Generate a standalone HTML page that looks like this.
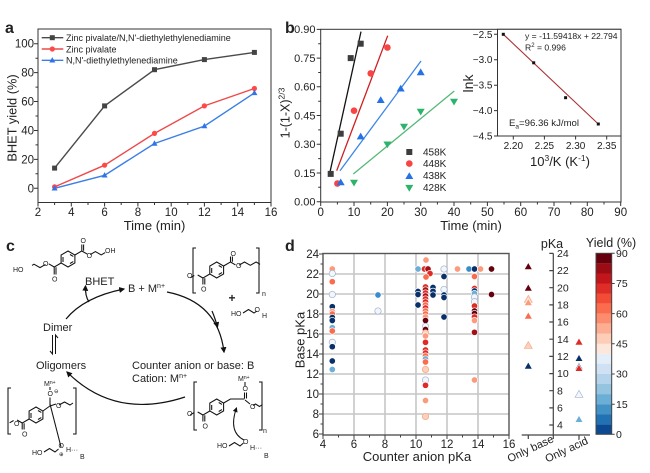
<!DOCTYPE html>
<html><head><meta charset="utf-8">
<style>
html,body{margin:0;padding:0;background:#fff}
svg{display:block}
text{font-family:"Liberation Sans",Arial,sans-serif;fill:#222}
.t{font-size:11.5px}
.s{font-size:10px}
.N{fill:#08306b}.B1{fill:#3a8ccc}.LB{fill:#6baed6}.W{fill:#f3f6fb;stroke:#9db3cf!important}
.P{fill:#fdd0bb;stroke:#f2a385!important}.LO{fill:#fc9b7c}.O{fill:#fb6b4e}.R{fill:#e02a25}.DR{fill:#a50f15}.M{fill:#67000d}
.d circle{stroke:#fff;stroke-width:.7}
.d path{stroke:#fff;stroke-width:.6}
.st{stroke:#111;fill:none;stroke-width:1.05}
</style></head><body>
<svg width="650" height="473" viewBox="0 0 650 473" xmlns="http://www.w3.org/2000/svg">
<defs>
<marker id="ah" viewBox="0 0 10 10" refX="8" refY="5" markerWidth="5" markerHeight="5" orient="auto"><path d="M0,0 L10,5 L0,10 z" fill="#111"/></marker>
</defs>
<rect width="650" height="473" fill="#fff"/>

<!-- ============ PANEL A ============ -->
<text x="5" y="33" style="font-size:16px;font-weight:bold">a</text>
<g stroke="#333" stroke-width="1" fill="none">
<rect x="38" y="29" width="233" height="173.5"/>
<path d="M38 202.5v4M71.3 202.5v4M104.6 202.5v4M137.9 202.5v4M171.2 202.5v4M204.4 202.5v4M237.7 202.5v4M271 202.5v4
M54.6 202.5v2.5M88 202.5v2.5M121.2 202.5v2.5M154.5 202.5v2.5M187.8 202.5v2.5M221.1 202.5v2.5M254.4 202.5v2.5
M38 188.3h-4M38 159.4h-4M38 130.5h-4M38 101.5h-4M38 72.6h-4M38 43.7h-4
M38 173.8h-2.5M38 144.9h-2.5M38 116h-2.5M38 87.1h-2.5M38 58.2h-2.5"/>
</g>
<g class="t" text-anchor="middle">
<text x="38" y="216">2</text><text x="71.3" y="216">4</text><text x="104.6" y="216">6</text><text x="137.9" y="216">8</text>
<text x="171.2" y="216">10</text><text x="204.4" y="216">12</text><text x="237.7" y="216">14</text><text x="271" y="216">16</text>
</g>
<g class="t" text-anchor="end">
<text x="34" y="192.3">0</text><text x="34" y="163.4">20</text><text x="34" y="134.5">40</text><text x="34" y="105.5">60</text><text x="34" y="76.6">80</text><text x="34" y="47.7">100</text>
</g>
<text x="154.5" y="230" text-anchor="middle" style="font-size:13px">Time (min)</text>
<text transform="translate(16.5,118) rotate(-90)" text-anchor="middle" style="font-size:12.8px">BHET yield (%)</text>
<!-- series -->
<polyline points="54.6,168.1 104.6,105.9 154.5,69.7 204.4,59.6 254.4,52.4" fill="none" stroke="#4a4a4a" stroke-width="1.4"/>
<polyline points="54.6,186.9 104.6,165.2 154.5,133.4 204.4,105.9 254.4,88.5" fill="none" stroke="#ee4a4a" stroke-width="1.4"/>
<polyline points="54.6,188.3 104.6,175.3 154.5,143.5 204.4,126.1 254.4,92.9" fill="none" stroke="#3b7fe6" stroke-width="1.4"/>
<g fill="#444"><rect x="52.1" y="165.6" width="5" height="5"/><rect x="102.1" y="103.4" width="5" height="5"/><rect x="152" y="67.2" width="5" height="5"/><rect x="201.9" y="57.1" width="5" height="5"/><rect x="251.9" y="49.9" width="5" height="5"/></g>
<g fill="#ff4848"><circle cx="54.6" cy="186.9" r="2.6"/><circle cx="104.6" cy="165.2" r="2.6"/><circle cx="154.5" cy="133.4" r="2.6"/><circle cx="204.4" cy="105.9" r="2.6"/><circle cx="254.4" cy="88.5" r="2.6"/></g>
<g fill="#2f74e8"><path d="M54.6 185.1l3 5.4h-6z"/><path d="M104.6 172.1l3 5.4h-6z"/><path d="M154.5 140.3l3 5.4h-6z"/><path d="M204.4 122.9l3 5.4h-6z"/><path d="M254.4 89.7l3 5.4h-6z"/></g>
<!-- legend a -->
<path d="M41.7 37.7h21.6" stroke="#4a4a4a" stroke-width="1.4"/><rect x="49.8" y="35.2" width="5" height="5" fill="#444"/>
<text x="66" y="41" style="font-size:9px">Zinc pivalate/N,N'-diethylethylenediamine</text>
<path d="M41.7 49h21.6" stroke="#ee4a4a" stroke-width="1.4"/><circle cx="52.3" cy="49" r="2.6" fill="#ff4848"/>
<text x="66" y="52.3" style="font-size:9px">Zinc pivalate</text>
<path d="M41.7 60.3h21.6" stroke="#3b7fe6" stroke-width="1.4"/><path d="M52.3 57.1l3 5.4h-6z" fill="#2f74e8"/>
<text x="66" y="63.6" style="font-size:9px">N,N'-diethylethylenediamine</text>

<!-- ============ PANEL B ============ -->
<text x="285" y="33" style="font-size:16px;font-weight:bold">b</text>
<g stroke="#333" stroke-width="1" fill="none">
<rect x="320.7" y="29.3" width="300.3" height="172.7"/>
<path d="M320.7 202v4M354 202v4M387.4 202v4M420.7 202v4M454 202v4M487.4 202v4M520.7 202v4M554 202v4M587.3 202v4M620.7 202v4
M337.4 202v2.5M370.7 202v2.5M404 202v2.5M437.4 202v2.5M470.7 202v2.5M504 202v2.5M537.4 202v2.5M570.7 202v2.5M604 202v2.5
M320.7 201.7h-4M320.7 173h-4M320.7 144.3h-4M320.7 115.5h-4M320.7 86.8h-4M320.7 58.1h-4M320.7 29.4h-4
M320.7 187.3h-2.5M320.7 158.6h-2.5M320.7 129.9h-2.5M320.7 101.2h-2.5M320.7 72.5h-2.5M320.7 43.7h-2.5"/>
</g>
<g class="t" text-anchor="middle">
<text x="320.7" y="216">0</text><text x="354" y="216">10</text><text x="387.4" y="216">20</text><text x="420.7" y="216">30</text><text x="454" y="216">40</text>
<text x="487.4" y="216">50</text><text x="520.7" y="216">60</text><text x="554" y="216">70</text><text x="587.3" y="216">80</text><text x="620.7" y="216">90</text>
</g>
<g class="t" text-anchor="end" style="font-size:11px">
<text x="315.5" y="205.5">0.00</text><text x="315.5" y="176.8">0.15</text><text x="315.5" y="148.1">0.30</text><text x="315.5" y="119.3">0.45</text>
<text x="315.5" y="90.6">0.60</text><text x="315.5" y="61.9">0.75</text><text x="315.5" y="33.2">0.90</text>
</g>
<text x="471" y="230" text-anchor="middle" style="font-size:13px">Time (min)</text>
<text transform="translate(289.5,113) rotate(-90)" text-anchor="middle" style="font-size:12.5px">1-(1-X)<tspan dy="-5" style="font-size:8.5px">2/3</tspan></text>
<!-- fit lines -->
<path d="M329.3 175.1L361 31.6" stroke="#111" stroke-width="1.3"/>
<path d="M336.7 170.7L387.7 35.7" stroke="#d01e1e" stroke-width="1.3"/>
<path d="M340 170.7L421 61" stroke="#3d86e6" stroke-width="1.3"/>
<path d="M353.3 174L454.3 91" stroke="#55b877" stroke-width="1.3"/>
<!-- markers -->
<g fill="#3d3d3d"><rect x="327.7" y="170.9" width="6" height="6"/><rect x="337.7" y="130.7" width="6" height="6"/><rect x="347.7" y="55.1" width="6" height="6"/><rect x="357.7" y="40.7" width="6" height="6"/></g>
<g fill="#f84444"><circle cx="337.4" cy="183.5" r="3.3"/><circle cx="354" cy="110.7" r="3.3"/><circle cx="370.7" cy="73.4" r="3.3"/><circle cx="387.4" cy="47.5" r="3.3"/></g>
<g fill="#2373e6"><path d="M340.7 178.5l4 6.8h-8z"/><path d="M360.7 132.6l4 6.8h-8z"/><path d="M380.7 96.2l4 6.8h-8z"/><path d="M400.7 84.7l4 6.8h-8z"/><path d="M420.7 68.4l4 6.8h-8z"/></g>
<g fill="#2cb36c"><path d="M354 186.5l4 -6.8h-8z"/><path d="M387.4 148.3l4 -6.8h-8z"/><path d="M404 130.5l4 -6.8h-8z"/><path d="M420.7 115.5l4 -6.8h-8z"/><path d="M454 105.5l4 -6.8h-8z"/></g>
<!-- legend b -->
<rect x="406.3" y="149" width="6" height="6" fill="#3d3d3d"/><text x="423" y="155.5" class="s">458K</text>
<circle cx="409.3" cy="163.6" r="3.3" fill="#f84444"/><text x="423" y="167" class="s">448K</text>
<path d="M409.3 172.2l4 6.8h-8z" fill="#2373e6"/><text x="423" y="179" class="s">438K</text>
<path d="M409.3 191.7l4 -6.8h-8z" fill="#2cb36c"/><text x="423" y="191" class="s">428K</text>
<!-- inset -->
<rect x="497.5" y="29.3" width="123.5" height="106.7" fill="#fff" stroke="#333" stroke-width="1"/>
<g stroke="#333" stroke-width="1"><path d="M513.3 136v3.5M544.4 136v3.5M575.6 136v3.5M606.7 136v3.5M497.5 34.3h-3.5M497.5 59.7h-3.5M497.5 85.2h-3.5M497.5 110.6h-3.5M497.5 136h-3.5"/></g>
<g text-anchor="middle" style="font-size:10px"><text x="513.3" y="149">2.20</text><text x="544.4" y="149">2.25</text><text x="575.6" y="149">2.30</text><text x="606.7" y="149">2.35</text></g>
<g text-anchor="end" style="font-size:10px"><text x="492.5" y="37.8">−2.5</text><text x="492.5" y="63.2">−3.0</text><text x="492.5" y="88.7">−3.5</text><text x="492.5" y="114.1">−4.0</text><text x="492.5" y="139.5">−4.5</text></g>
<path d="M503.3 34.3L598.3 124" stroke="#a83232" stroke-width="1.1"/>
<g fill="#111"><rect x="501.8" y="32.8" width="3" height="3"/><rect x="532.2" y="61.3" width="3" height="3"/><rect x="564.1" y="96.2" width="3" height="3"/><rect x="596.8" y="122.5" width="3" height="3"/></g>
<text x="525" y="39" style="font-size:8.6px">y = -11.59418x + 22.794</text>
<text x="525" y="50.5" style="font-size:8.6px">R<tspan dy="-3.5" style="font-size:6px">2</tspan><tspan dy="3.5"> = 0.996</tspan></text>
<text x="509" y="126" style="font-size:9.6px">E<tspan dy="2.5" style="font-size:6.5px">a</tspan><tspan dy="-2.5">=96.36 kJ/mol</tspan></text>
<text transform="translate(473,83.5) rotate(-90)" text-anchor="middle" style="font-size:14px">lnk</text>
<text x="560" y="166" text-anchor="middle" style="font-size:13px">10<tspan dy="-5" style="font-size:8.5px">3</tspan><tspan dy="5">/K (K</tspan><tspan dy="-5" style="font-size:8.5px">-1</tspan><tspan dy="5">)</tspan></text>

<!-- ============ PANEL C ============ -->
<text x="6" y="251" style="font-size:16px;font-weight:bold">c</text>
<g class="st">
<!-- BHET -->
<path d="M68 251l6.9 4v8l-6.9 4l-6.9-4v-8z"/><path d="M70 254.5l3.3 1.9M63 257v5M70 263.5l3.3-1.9" />
<path d="M61.1 263l-6.9 4v7.5M56 267.3v7.2M54.2 267l-5.5-3.2M45.5 264.4l-5.5 3.2l-6 -3.4l-2 1.2"/>
<path d="M74.9 255l6.9-4v-6.5M83.6 250.7v-6.2M81.8 251l5.4 3.1M90.2 254.6l5.2-3l5.8 3.3l4-2.3"/>
<!-- PET top right -->
<path d="M196 248h-3v45h3M256 248h3v45h-3"/>
<path d="M216.7 262l6.9 4v8l-6.9 4l-6.9-4v-8z"/><path d="M218.7 265.5l3.3 1.9M211.7 268v5M218.7 274.5l3.3-1.9"/>
<path d="M209.8 274l-6.9 4v6.5M204.8 278.3v6.2M202.9 278l-5.2-3M194.3 275.5l-4 2.3"/>
<path d="M223.6 266l6.9-4v-5.5M232.4 261.7v-5.2M230.5 262l5 2.9M239 265.2l5.5-3.2l5.8 3.3l5.8-3.3l4 2.3"/>
<!-- EG -->
<path d="M243 313l5.5-3.5l5.5 3.5l3-2"/>
<!-- bottom-left structure -->
<path d="M11 388h-3v46h3M73 388h3v46h-3"/>
<path d="M36 407l6.9 4v8l-6.9 4l-6.9-4v-8z"/><path d="M38 410.5l3.3 1.9M31 413v5M38 419.5l3.3-1.9"/>
<path d="M29.1 419l-6.9 4v6.5M24.1 423.3v6.2M22.2 423l-5.2-3M13.6 420.5l-4 2.3"/>
<path d="M42.9 411l7-5M50 405.5v-8M50 406l6 -2M59 405l5.5-3l5.5 3l3-2M50 390v-3"/>
<path d="M50 404L61 447"/>
<path d="M44 452l5.5-3.5l5.5 3.5l3.5-3"/>
<!-- bottom-right structure -->
<path d="M197 382h-3v48h3M259 382h3v48h-3"/>
<path d="M216.7 399l6.9 4v8l-6.9 4l-6.9-4v-8z"/><path d="M218.7 402.5l3.3 1.9M211.7 405v5M218.7 411.5l3.3-1.9"/>
<path d="M209.8 411l-6.9 4v6.5M204.8 415.3v6.2M202.9 415l-5.2-3M194.3 412.5l-4 2.3"/>
<path d="M223.6 403l6.9-4h14M244.5 398.5v-6M246.5 398.5v-6M245 400l5 4M253 405.5l2.5-1.5l4 2.5l3-2M245 386v-4"/>
<path d="M229 446l5.5-3.5l5.5 3.5l3.5-3"/>
</g>
<g style="font-size:7px" fill="#111">
<text x="13" y="272">HO</text><text x="52" y="281.5">O</text><text x="43" y="266">O</text>
<text x="80.5" y="243">O</text><text x="86.6" y="258">O</text><text x="105" y="253">OH</text>
<text x="187" y="278">O</text><text x="201" y="291.5">O</text><text x="230.5" y="256">O</text><text x="236" y="268">O</text><text x="262" y="296">n</text>
<text x="231" y="316">HO</text><text x="254.5" y="312">O</text><text x="262" y="318">H</text>
<text x="44" y="386">M<tspan dy="-2" style="font-size:5px">n+</tspan></text><text x="47.5" y="396">O</text><text x="54" y="393" style="font-size:5.5px">⊖</text>
<text x="56" y="408">O</text><text x="14" y="426">O</text><text x="22" y="436.5">O</text>
<text x="32" y="455">HO</text><text x="58.5" y="448">O</text><text x="59" y="456" style="font-size:5.5px">⊕</text><text x="66" y="452">H···</text><text x="80" y="459">B</text>
<text x="238" y="381">M<tspan dy="-2" style="font-size:5px">n+</tspan></text><text x="242.5" y="391">O</text><text x="250" y="409">O</text>
<text x="187" y="416">O</text><text x="202.5" y="428.5">O</text><text x="263" y="433">n</text>
<text x="217" y="448">HO</text><text x="243" y="444">O</text><text x="250" y="450">H···</text><text x="264" y="458">B</text>
</g>
<text x="232" y="302" text-anchor="middle" style="font-size:12px;font-weight:bold">+</text>
<g style="font-size:11px">
<text x="85" y="285">BHET</text>
<text x="128" y="292">B + M<tspan dy="-4" style="font-size:7px">n+</tspan></text>
<text x="43" y="331">Dimer</text>
<text x="36" y="369">Oligomers</text>
<text x="132" y="369">Counter anion or base: B</text>
<text x="132" y="382">Cation: M<tspan dy="-4" style="font-size:7px">n+</tspan></text>
</g>
<g fill="none" stroke="#111" stroke-width="1.2">
<path d="M66 319Q84 297 124 289" marker-end="url(#ah)"/>
<path d="M89 302Q85 296 85.5 286" marker-end="url(#ah)"/>
<path d="M167 292Q218 302 224 352" marker-end="url(#ah)"/>
<path d="M212 311Q215 318 217.5 327" marker-end="url(#ah)"/>
<path d="M185 397Q115 420 67 372" marker-end="url(#ah)"/>
<path d="M244 440Q228 432 236.5 408" marker-end="url(#ah)" stroke-width="1"/>
<path d="M52.5 335v19l-2.5-3M55.5 354v-19l2.5 3" stroke-width="1"/>
</g>

<!-- ============ PANEL D ============ -->
<text x="285" y="251" style="font-size:16px;font-weight:bold">d</text>
<g stroke="#c6c6c6" stroke-width="1.6">
<path d="M354 254v181M385 254v181M416 254v181M447 254v181M478 254v181"/>
<path d="M323 274h186M323 294h186M323 314h186M323 334h186M323 354h186M323 374h186M323 394h186M323 414h186"/>
</g>
<g class="d">
<circle cx="332.3" cy="269" r="3.2" class="LO"/><circle cx="332.3" cy="273.5" r="3.2" class="W"/><circle cx="332.3" cy="281.7" r="3.2" class="O"/>
<circle cx="332.3" cy="294.5" r="3.2" class="W"/><circle cx="332.3" cy="306.7" r="3.2" class="N"/><circle cx="332.3" cy="311.5" r="3.2" class="LO"/>
<circle cx="332.3" cy="314" r="3.2" class="O"/><circle cx="332.3" cy="317.5" r="3.2" class="N"/><circle cx="332.3" cy="320.5" r="3.2" class="N"/>
<circle cx="332.3" cy="327.7" r="3.2" class="LB"/><circle cx="332.3" cy="331" r="3.2" class="O"/><circle cx="332.3" cy="342.3" r="3.2" class="W"/>
<circle cx="332.3" cy="346.7" r="3.2" class="N"/><circle cx="332.3" cy="361" r="3.2" class="N"/><circle cx="332.3" cy="369.5" r="3.2" class="LB"/>
<circle cx="378" cy="295" r="3.2" class="B1"/><circle cx="378" cy="311" r="3.2" class="W"/>
<circle cx="418" cy="269" r="3.2" class="LB"/><circle cx="418" cy="291.5" r="3.2" class="N"/><circle cx="418" cy="294.5" r="3.2" class="N"/><circle cx="418" cy="305" r="3.2" class="N"/>
<circle cx="426" cy="260" r="3.2" class="LO"/>
<circle cx="424.5" cy="269" r="3.2" class="R"/><circle cx="428" cy="269" r="3.2" class="DR"/><circle cx="430" cy="273.5" r="3.2" class="R"/><circle cx="426" cy="277" r="3.2" class="O"/>
<circle cx="425.5" cy="287" r="3.2" class="R"/><circle cx="425.5" cy="290" r="3.2" class="DR"/><circle cx="425.5" cy="293" r="3.2" class="R"/><circle cx="425.5" cy="296" r="3.2" class="DR"/>
<circle cx="425.5" cy="299" r="3.2" class="R"/><circle cx="425.5" cy="302" r="3.2" class="R"/><circle cx="425.5" cy="305" r="3.2" class="O"/><circle cx="425.5" cy="308" r="3.2" class="R"/>
<circle cx="425.5" cy="311" r="3.2" class="O"/><circle cx="425.5" cy="314" r="3.2" class="O"/><circle cx="425.5" cy="317" r="3.2" class="LO"/><circle cx="425.5" cy="320.5" r="3.2" class="M"/>
<circle cx="425.5" cy="326.5" r="3.2" class="W"/><circle cx="425.5" cy="329.5" r="3.2" class="M"/><circle cx="425.5" cy="333" r="3.2" class="P"/><circle cx="425.5" cy="336" r="3.2" class="LO"/>
<circle cx="425.5" cy="342.3" r="3.2" class="R"/><circle cx="425.5" cy="350" r="3.2" class="R"/><circle cx="425.5" cy="353" r="3.2" class="R"/><circle cx="425.5" cy="356" r="3.2" class="O"/>
<circle cx="425.5" cy="359" r="3.2" class="LB"/><circle cx="425.5" cy="362" r="3.2" class="O"/><circle cx="425.5" cy="369.5" r="3.2" class="P"/><circle cx="425.5" cy="380" r="3.2" class="W"/>
<circle cx="425.5" cy="385.3" r="3.2" class="R"/><circle cx="425.5" cy="400.5" r="3.2" class="LO"/><circle cx="425.5" cy="416.5" r="3.2" class="P"/>
<circle cx="433" cy="287.5" r="3.2" class="N"/><circle cx="433" cy="291.3" r="3.2" class="N"/><circle cx="433" cy="295" r="3.2" class="N"/>
<circle cx="444" cy="269" r="3.2" class="W"/><circle cx="444" cy="276.5" r="3.2" class="N"/><circle cx="444" cy="289.5" r="3.2" class="W"/>
<circle cx="444" cy="295" r="3.2" class="N"/><circle cx="444" cy="297.5" r="3.2" class="N"/><circle cx="444" cy="317" r="3.2" class="N"/>
<circle cx="457.5" cy="269" r="3.2" class="LO"/><circle cx="469" cy="269" r="3.2" class="B1"/>
<circle cx="474.5" cy="269" r="3.2" class="N"/><circle cx="474.5" cy="276.5" r="3.2" class="O"/><circle cx="474.5" cy="288.5" r="3.2" class="R"/>
<circle cx="474.5" cy="291" r="3.2" class="N"/><circle cx="474.5" cy="293.5" r="3.2" class="LB"/><circle cx="474.5" cy="297" r="3.2" class="W"/>
<circle cx="474.5" cy="301.7" r="3.2" class="W"/><circle cx="474.5" cy="306" r="3.2" class="R"/><circle cx="474.5" cy="311" r="3.2" class="M"/>
<circle cx="474.5" cy="313.5" r="3.2" class="M"/><circle cx="474.5" cy="317" r="3.2" class="R"/><circle cx="474.5" cy="320.5" r="3.2" class="LO"/>
<circle cx="474.5" cy="332.3" r="3.2" class="DR"/><circle cx="474.5" cy="380" r="3.2" class="LO"/>
<circle cx="480.5" cy="269" r="3.2" class="LO"/><circle cx="491.5" cy="269" r="3.2" class="M"/><circle cx="491.5" cy="294.5" r="3.2" class="M"/>
</g>
<g stroke="#555" stroke-width="1.4" fill="none">
<rect x="323" y="253.5" width="186" height="181.5"/>
</g>
<g stroke="#444" stroke-width="1" fill="none">
<path d="M323 254h-4M323 274h-4M323 294h-4M323 314h-4M323 334h-4M323 354h-4M323 374h-4M323 394h-4M323 414h-4M323 434h-4
M323 264h-2.5M323 284h-2.5M323 304h-2.5M323 324h-2.5M323 344h-2.5M323 364h-2.5M323 384h-2.5M323 404h-2.5M323 424h-2.5
M323 435v4M354 435v4M385 435v4M416 435v4M447 435v4M478 435v4M509 435v4
M338.5 435v2.5M369.5 435v2.5M400.5 435v2.5M431.5 435v2.5M462.5 435v2.5M493.5 435v2.5"/>
</g>
<g class="t" text-anchor="end">
<text x="319" y="258">24</text><text x="319" y="278">22</text><text x="319" y="298">20</text><text x="319" y="318">18</text><text x="319" y="338">16</text>
<text x="319" y="358">14</text><text x="319" y="378">12</text><text x="319" y="398">10</text><text x="319" y="418">8</text><text x="319" y="438">6</text>
</g>
<g class="t" text-anchor="middle">
<text x="323" y="448">4</text><text x="354" y="448">6</text><text x="385" y="448">8</text><text x="416" y="448">10</text><text x="447" y="448">12</text><text x="478" y="448">14</text><text x="509" y="448">16</text>
</g>
<text x="417" y="461" text-anchor="middle" style="font-size:13px">Counter anion pKa</text>
<text transform="translate(304.5,340) rotate(-90)" text-anchor="middle" style="font-size:13px">Base pKa</text>

<!-- side pKa axis -->
<g stroke="#444" stroke-width="1.2" fill="none">
<path d="M553.3 253.4V435M521.7 435H590"/>
<path d="M553.3 253.4h-4M553.3 270.6h-4M553.3 287.7h-4M553.3 304.9h-4M553.3 322h-4M553.3 339.2h-4M553.3 356.4h-4M553.3 373.6h-4M553.3 390.7h-4M553.3 407.9h-4M553.3 425h-4
M528.3 435v4M579 435v4M553.3 435v4"/>
</g>
<g style="font-size:10.5px">
<text x="557" y="257">24</text><text x="557" y="274.2">22</text><text x="557" y="291.3">20</text><text x="557" y="308.5">18</text><text x="557" y="325.6">16</text>
<text x="557" y="342.8">14</text><text x="557" y="360">12</text><text x="557" y="377.2">10</text><text x="557" y="394.3">8</text><text x="557" y="411.5">6</text><text x="557" y="428.6">4</text>
</g>
<text x="552" y="248" text-anchor="middle" style="font-size:12.5px">pKa</text>
<text transform="translate(532,452) rotate(-25)" text-anchor="middle" style="font-size:11px">Only base</text>
<text transform="translate(568,453) rotate(-25)" text-anchor="middle" style="font-size:11px">Only acid</text>
<g class="d">
<path d="M528.3 262.5l4 7h-8z" class="M"/><path d="M528.3 284l4 7h-8z" class="M"/><path d="M528.3 295.3l4 7h-8z" class="P"/>
<path d="M528.3 298.5l4 7h-8z" class="LO"/><path d="M528.3 312l4 7h-8z" class="O"/><path d="M528.3 341.5l4 7h-8z" class="P"/><path d="M528.3 362l4 7h-8z" class="N"/>
<path d="M579 338l4 7h-8z" class="R"/><path d="M579 354.3l4 7h-8z" class="N"/><path d="M579 362.5l4 7h-8z" class="N"/><path d="M579 364.3l4 7h-8z" class="R"/>
<path d="M579 390.3l4 7h-8z" class="W"/><path d="M579 415.3l4 7h-8z" class="LB"/>
</g>

<!-- colorbar -->
<g>
<rect x="596" y="253.3" width="15.7" height="10.1" fill="#67000d"/>
<rect x="596" y="263.4" width="15.7" height="10.1" fill="#9b0c14"/>
<rect x="596" y="273.4" width="15.7" height="10.1" fill="#c2151c"/>
<rect x="596" y="283.5" width="15.7" height="10.1" fill="#de2c26"/>
<rect x="596" y="293.5" width="15.7" height="10.1" fill="#f24b36"/>
<rect x="596" y="303.6" width="15.7" height="10.1" fill="#fb6b4e"/>
<rect x="596" y="313.6" width="15.7" height="10.1" fill="#fc8c6d"/>
<rect x="596" y="323.7" width="15.7" height="10.1" fill="#fcad92"/>
<rect x="596" y="333.8" width="15.7" height="10.1" fill="#fdcdb8"/>
<rect x="596" y="343.8" width="15.7" height="10.1" fill="#fde7da"/>
<rect x="596" y="353.9" width="15.7" height="10.1" fill="#e3eef8"/>
<rect x="596" y="363.9" width="15.7" height="10.1" fill="#cfe1f3"/>
<rect x="596" y="374" width="15.7" height="10.1" fill="#b5d3ea"/>
<rect x="596" y="384" width="15.7" height="10.1" fill="#94c4df"/>
<rect x="596" y="394.1" width="15.7" height="10.1" fill="#6baed6"/>
<rect x="596" y="404.2" width="15.7" height="10.1" fill="#4292c6"/>
<rect x="596" y="414.2" width="15.7" height="10.1" fill="#2171b5"/>
<rect x="596" y="424.3" width="15.7" height="10" fill="#0b4a92"/>
<rect x="596" y="253.3" width="15.7" height="181" fill="none" stroke="#444" stroke-width="1"/>
<path d="M611.7 253.3h3M611.7 283.5h3M611.7 313.6h3M611.7 343.8h3M611.7 374h3M611.7 404.2h3M611.7 434.3h3" stroke="#444" stroke-width="1"/>
</g>
<g style="font-size:10.5px">
<text x="616" y="257">90</text><text x="616" y="287.2">75</text><text x="616" y="317.3">60</text><text x="616" y="347.5">45</text>
<text x="616" y="377.7">30</text><text x="616" y="407.9">15</text><text x="616" y="438">0</text>
</g>
<text x="611" y="247" text-anchor="middle" style="font-size:12.5px">Yield (%)</text>
</svg>
</body></html>
